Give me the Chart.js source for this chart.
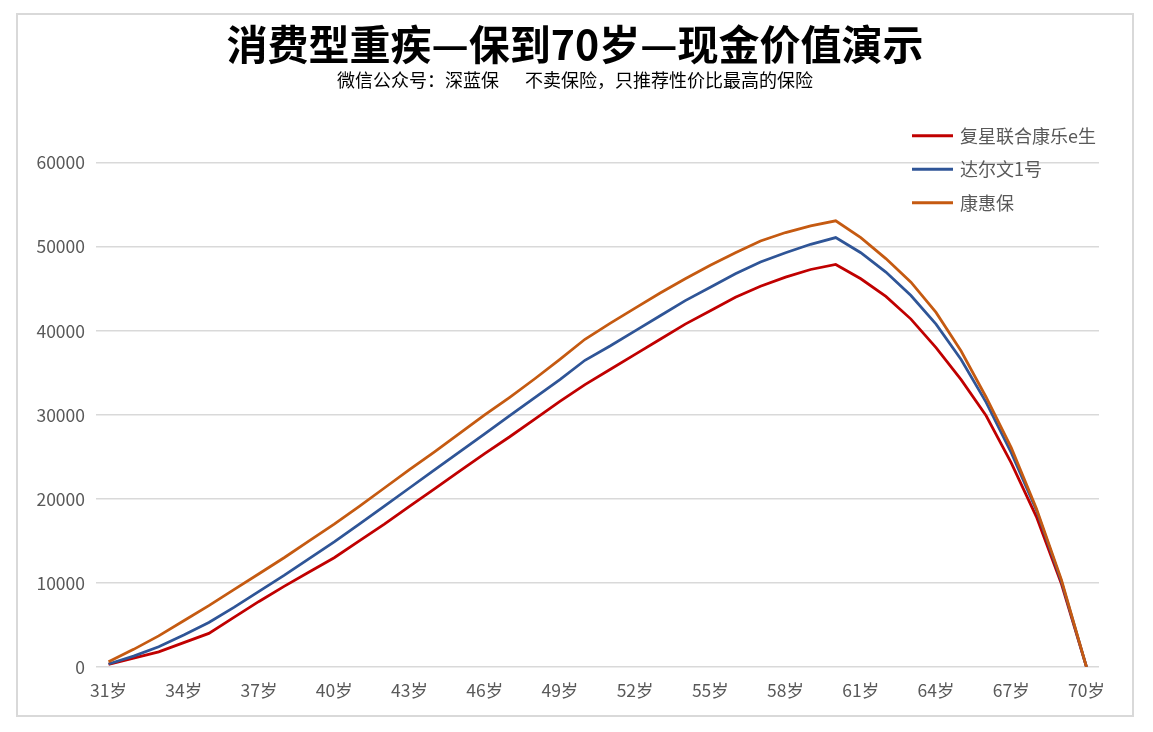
<!DOCTYPE html>
<html>
<head>
<meta charset="utf-8">
<script src="https://cdn.jsdelivr.net/npm/chart.js@4.4.0/dist/chart.umd.min.js"></script>
<style>
  html, body { margin: 0; padding: 0; background: #fff; }
  #frame { position: absolute; left: 16px; top: 13px; width: 1118px; height: 704px; box-sizing: border-box; border: 2px solid #d9d9d9; }
  #frame canvas { display: block; }
</style>
</head>
<body>
<div id="frame"><canvas id="c" width="1114" height="700" style="width:1114px;height:700px"></canvas></div>
<script>
// ===== data =====
var ages = ['31岁','32岁','33岁','34岁','35岁','36岁','37岁','38岁','39岁','40岁',
            '41岁','42岁','43岁','44岁','45岁','46岁','47岁','48岁','49岁','50岁',
            '51岁','52岁','53岁','54岁','55岁','56岁','57岁','58岁','59岁','60岁',
            '61岁','62岁','63岁','64岁','65岁','66岁','67岁','68岁','69岁','70岁'];

var fuxing = [320, 1050, 1800, 2900, 4000, 5900, 7800, 9600, 11300, 13000,
              15000, 17000, 19100, 21200, 23300, 25400, 27400, 29500, 31600, 33600,
              35400, 37200, 39000, 40800, 42400, 44000, 45300, 46400, 47300, 47900,
              46200, 44100, 41400, 38000, 34200, 29900, 24300, 17900, 9900, 0];

var darwin = [360, 1300, 2400, 3800, 5300, 7100, 9000, 10900, 12900, 14900,
              17000, 19150, 21300, 23450, 25600, 27750, 29900, 32050, 34200, 36500,
              38200, 40000, 41800, 43600, 45200, 46800, 48200, 49300, 50300, 51100,
              49300, 47000, 44200, 40800, 36600, 31500, 25500, 18700, 10200, 0];

var kanghui = [630, 2100, 3700, 5500, 7300, 9200, 11100, 13000, 15000, 17000,
               19100, 21300, 23500, 25600, 27800, 30000, 32100, 34300, 36600, 39000,
               40900, 42700, 44500, 46200, 47800, 49300, 50700, 51700, 52500, 53100,
               51100, 48600, 45800, 42200, 37600, 32100, 26100, 18900, 10400, 0];

var seriesNames = ['复星联合康乐e生', '达尔文1号', '康惠保'];
var yTicks = [0, 10000, 20000, 30000, 40000, 50000, 60000];

var FONT = '"Noto Sans CJK SC", "Noto Sans", sans-serif';
var GREY = '#595959';

// legend drawn at the top right, over the plot area
var sideLegend = {
  id: 'sideLegend',
  afterDraw: function(chart) {
    var ctx = chart.ctx, a = chart.chartArea;
    chart.data.datasets.forEach(function(ds, i) {
      var y = a.top - 27 + i * 33.5;
      ctx.save();
      ctx.strokeStyle = ds.borderColor;
      ctx.lineWidth = 3;
      ctx.beginPath();
      ctx.moveTo(a.right - 187, y);
      ctx.lineTo(a.right - 146, y);
      ctx.stroke();
      ctx.fillStyle = GREY;
      ctx.font = '18px ' + FONT;
      ctx.textBaseline = 'middle';
      ctx.fillText(ds.label, a.right - 139, y);
      ctx.restore();
    });
  }
};

new Chart(document.getElementById('c'), {
  type: 'line',
  data: {
    labels: ages,
    datasets: [
      { label: seriesNames[0], data: fuxing,  borderColor: '#C00000', order: 3 },
      { label: seriesNames[1], data: darwin,  borderColor: '#2F5597', order: 2 },
      { label: seriesNames[2], data: kanghui, borderColor: '#C55A11', order: 1 }
    ]
  },
  plugins: [sideLegend],
  options: {
    responsive: false,
    animation: false,
    layout: { padding: 0 },
    elements: {
      line: { borderWidth: 2.75, tension: 0, fill: false },
      point: { radius: 0 }
    },
    plugins: {
      legend: { display: false },
      tooltip: { enabled: false },
      title: {
        display: true,
        text: '消费型重疾—保到70岁—现金价值演示',
        color: '#000',
        font: { family: FONT, size: 41, weight: 'bold', lineHeight: 1.2 },
        padding: { top: 5, bottom: 0 }
      },
      subtitle: {
        display: true,
        text: '微信公众号：深蓝保\u3000  不卖保险，只推荐性价比最高的保险',
        color: '#000',
        font: { family: FONT, size: 18, lineHeight: 1.2 },
        padding: { top: 0, bottom: 72 }
      }
    },
    scales: {
      x: {
        offset: true,
        grid: { display: false, drawTicks: false },
        border: { display: false },
        afterFit: function(s) { s.height = 48; },
        ticks: {
          autoSkip: false,
          maxRotation: 0,
          padding: 13,
          color: GREY,
          font: { family: FONT, size: 17.5 },
          callback: function(v, i) { return i % 3 === 0 ? this.getLabelForValue(v) : ''; }
        }
      },
      y: {
        min: yTicks[0],
        max: yTicks[yTicks.length - 1],
        afterFit: function(s) { s.width = 78; },
        afterBuildTicks: function(s) { s.ticks = yTicks.map(function(v) { return { value: v }; }); },
        grid: { color: '#d9d9d9', lineWidth: 1.5, drawTicks: false },
        border: { display: false },
        ticks: {
          padding: 11,
          color: GREY,
          font: { family: FONT, size: 17.5 },
          callback: function(v) { return String(v); }
        }
      },
      // empty right-hand spacer so the plot sits like the original
      yRight: {
        position: 'right',
        min: yTicks[0],
        max: yTicks[yTicks.length - 1],
        afterFit: function(s) { s.width = 33; },
        grid: { display: false, drawTicks: false },
        border: { display: false },
        ticks: { display: false }
      }
    }
  }
});
</script>
</body>
</html>
